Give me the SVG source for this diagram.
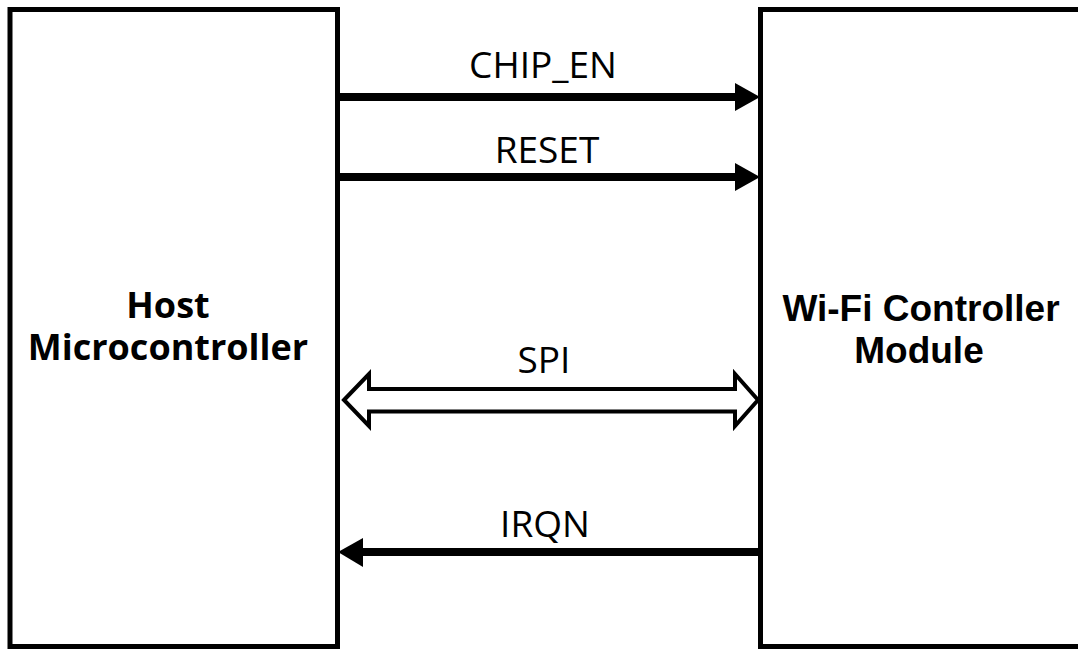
<svg xmlns="http://www.w3.org/2000/svg" width="1078" height="649" viewBox="0 0 1078 649">
<style>
.box{fill:#fff;stroke:#000;stroke-width:5}
.sig{font-family:"Open Sans",sans-serif;font-size:37px;fill:#000;text-anchor:middle}
.hl{font-family:"Open Sans",sans-serif;font-weight:bold;font-size:36px;fill:#000;text-anchor:middle}
.wl{font-family:"Liberation Sans",Arial,sans-serif;font-weight:bold;font-size:37px;fill:#000;text-anchor:middle}
.wire{stroke:#000;stroke-width:8;fill:none}
.head{fill:#000;stroke:none}
</style>
<rect width="1078" height="649" fill="#fff"/>
<g id="host">
<rect class="box" x="10" y="9.5" width="327.5" height="637"/>
<text class="hl" x="168" y="318">Host</text>
<text class="hl" x="168" y="360">Microcontroller</text>
</g>
<g id="wifi">
<rect class="box" x="760.5" y="9.5" width="330" height="637"/>
<text class="wl" x="921" y="321">Wi-Fi Controller</text>
<text class="wl" x="919" y="363">Module</text>
</g>
<g id="connectors">
<line class="wire" x1="340" y1="97" x2="738" y2="97"/>
<polygon class="head" points="760,97 735,83 735,111"/>
<text class="sig" x="543" y="78">CHIP_EN</text>
<line class="wire" x1="340" y1="177" x2="738" y2="177"/>
<polygon class="head" points="760,177 735,163 735,191"/>
<text class="sig" x="547" y="163">RESET</text>
<polygon points="344,400 369,374 369,389 735,389 735,374 758,400 735,426 735,411.5 369,411.5 369,426" fill="#fff" stroke="#000" stroke-width="4"/>
<text class="sig" x="544" y="373">SPI</text>
<line class="wire" x1="758" y1="552" x2="360" y2="552"/>
<polygon class="head" points="338,552 363,538 363,567"/>
<text class="sig" x="545" y="537">IRQN</text>
</g>
</svg>
